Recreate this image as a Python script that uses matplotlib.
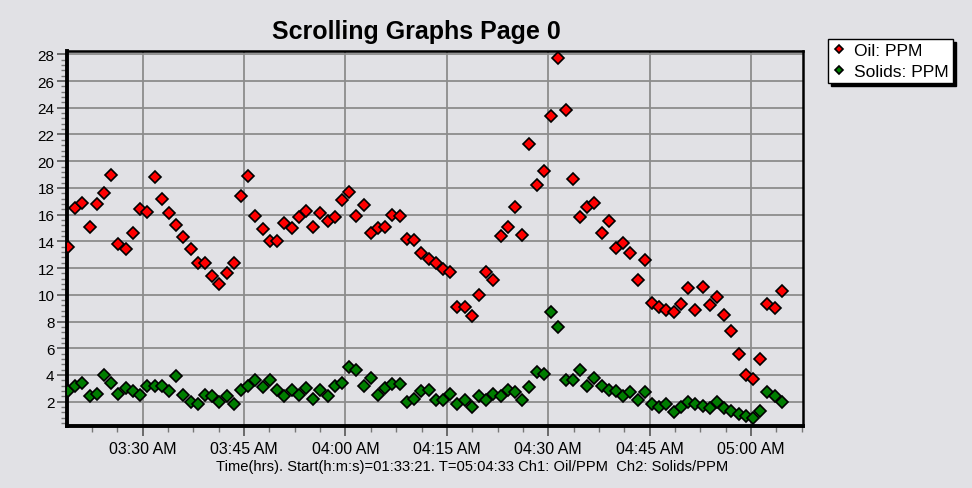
import matplotlib
matplotlib.use("Agg")
import matplotlib.dates as mdates
import matplotlib.ticker as mticker

from datetime import datetime, timedelta
from matplotlib import pyplot as plt

# last sample at 05:04:33, one sample every 64 s
END_TIME = "05:04:33"
SAMPLE_SECONDS = 64

oil_ppm = [13.6, 16.5, 16.9, 15.1, 16.8, 17.6, 19.0, 13.8, 13.4, 14.6,
           16.4, 16.2, 18.8, 17.2, 16.1, 15.2, 14.3, 13.4, 12.4, 12.4,
           11.4, 10.8, 11.6, 12.4, 17.4, 18.9, 15.9, 14.9, 14.0, 14.0,
           15.4, 15.0, 15.8, 16.3, 15.1, 16.1, 15.5, 15.8, 17.1, 17.7,
           15.9, 16.7, 14.6, 15.0, 15.1, 16.0, 15.9, 14.2, 14.1, 13.1,
           12.7, 12.4, 11.9, 11.7, 9.1, 9.1, 8.4, 10.0, 11.7, 11.1,
           14.4, 15.1, 16.6, 14.5, 21.3, 18.2, 19.3, 23.4, 27.7, 23.8,
           18.7, 15.8, 16.6, 16.9, 14.6, 15.5, 13.5, 13.9, 13.1, 11.1,
           12.6, 9.4, 9.1, 8.9, 8.7, 9.3, 10.5, 8.9, 10.6, 9.2,
           9.8, 8.5, 7.3, 5.6, 4.0, 3.7, 5.2, 9.3, 9.0, 10.3]

solids_ppm = [2.8, 3.2, 3.4, 2.4, 2.6, 4.0, 3.4, 2.6, 3.0, 2.8,
              2.5, 3.2, 3.2, 3.2, 2.8, 3.9, 2.5, 2.0, 1.8, 2.5,
              2.4, 2.0, 2.4, 1.8, 2.9, 3.2, 3.6, 3.1, 3.6, 2.9,
              2.4, 2.9, 2.5, 3.0, 2.2, 2.9, 2.4, 3.2, 3.4, 4.6,
              4.4, 3.2, 3.8, 2.5, 3.0, 3.3, 3.3, 2.0, 2.2, 2.8,
              2.9, 2.1, 2.1, 2.6, 1.8, 2.1, 1.6, 2.4, 2.1, 2.6,
              2.4, 2.9, 2.7, 2.1, 3.1, 4.2, 4.1, 8.7, 7.6, 3.6,
              3.6, 4.4, 3.2, 3.8, 3.2, 2.9, 2.8, 2.4, 2.7, 2.1,
              2.7, 1.8, 1.6, 1.8, 1.2, 1.6, 2.0, 1.8, 1.7, 1.5,
              2.0, 1.5, 1.3, 1.1, 0.9, 0.8, 1.3, 2.7, 2.4, 2.0]

series_labels = ["Oil: PPM", "Solids: PPM"]
y_ticks = list(range(2, 29, 2))

TITLE = "Scrolling Graphs Page 0"
X_LABEL = "Time(hrs). Start(h:m:s)=01:33:21. T=05:04:33 Ch1: Oil/PPM  Ch2: Solids/PPM"

BG = "#e1e1e5"
plt.rcParams["font.family"] = ["Liberation Sans", "DejaVu Sans"]

end = datetime.strptime("2000-01-01 " + END_TIME, "%Y-%m-%d %H:%M:%S")
times = [end - timedelta(seconds=SAMPLE_SECONDS * (len(oil_ppm) - 1 - i))
         for i in range(len(oil_ppm))]

fig = plt.figure(figsize=(9.72, 4.89), dpi=100, facecolor=BG)
ax = fig.add_axes([67 / 972, 62 / 489, 736 / 972, 375 / 489])
ax.set_facecolor(BG)

ax.grid(True, which="major", color="#8c8c8c", linewidth=1.3, zorder=0)
ax.set_axisbelow(True)

ax.plot(times, oil_ppm, linestyle="none", marker="D", markersize=6.6,
        markerfacecolor="#ff0000", markeredgecolor="black", markeredgewidth=1.2,
        label=series_labels[0], zorder=3)
ax.plot(times, solids_ppm, linestyle="none", marker="D", markersize=6.6,
        markerfacecolor="#007d00", markeredgecolor="black", markeredgewidth=1.2,
        label=series_labels[1], zorder=3)

day = end.date()
ax.set_xlim(datetime.combine(day, datetime.strptime("03:18:48", "%H:%M:%S").time()),
            datetime.combine(day, datetime.strptime("05:07:41", "%H:%M:%S").time()))
ax.set_ylim(0.18, 28.25)

ax.xaxis.set_major_locator(mdates.MinuteLocator(byminute=[0, 15, 30, 45]))
ax.xaxis.set_major_formatter(mdates.DateFormatter("%I:%M %p"))
ax.xaxis.set_minor_locator(mticker.AutoMinorLocator(4))
ax.set_yticks(y_ticks)
ax.yaxis.set_minor_locator(mticker.AutoMinorLocator(5))

ax.tick_params(axis="both", which="major", length=7, width=1.2, color="#555555")
ax.tick_params(axis="both", which="minor", length=4, width=1, color="#777777")
ax.tick_params(axis="x", labelsize=11.5, pad=4)
ax.tick_params(axis="y", labelsize=11, pad=2)

for side in ["left", "bottom"]:
    ax.spines[side].set_linewidth(2.8)
for side in ["top", "right"]:
    ax.spines[side].set_linewidth(1.8)

# axis caption sits right of the axes centre in the original
fig.text(472 / 972, 1 - 467 / 489, X_LABEL, ha="center", va="center", fontsize=10.6)

fig.text(416 / 972, 1 - 32 / 489, TITLE, ha="center", va="center",
         fontsize=18, fontweight="bold")

leg = fig.legend(loc="upper left", bbox_to_anchor=(828 / 972, 1 - 40 / 489),
                 borderaxespad=0, markerscale=0.6, handlelength=0.8, handletextpad=0.45,
                 borderpad=0.25, labelspacing=0.3, fancybox=False,
                 shadow={"color": "black", "alpha": 1}, prop={"size": 12.5})
leg.get_frame().set_edgecolor("black")
leg.get_frame().set_linewidth(1.0)
leg.get_frame().set_facecolor("white")

plt.savefig("out.png", dpi=100, facecolor=BG)
